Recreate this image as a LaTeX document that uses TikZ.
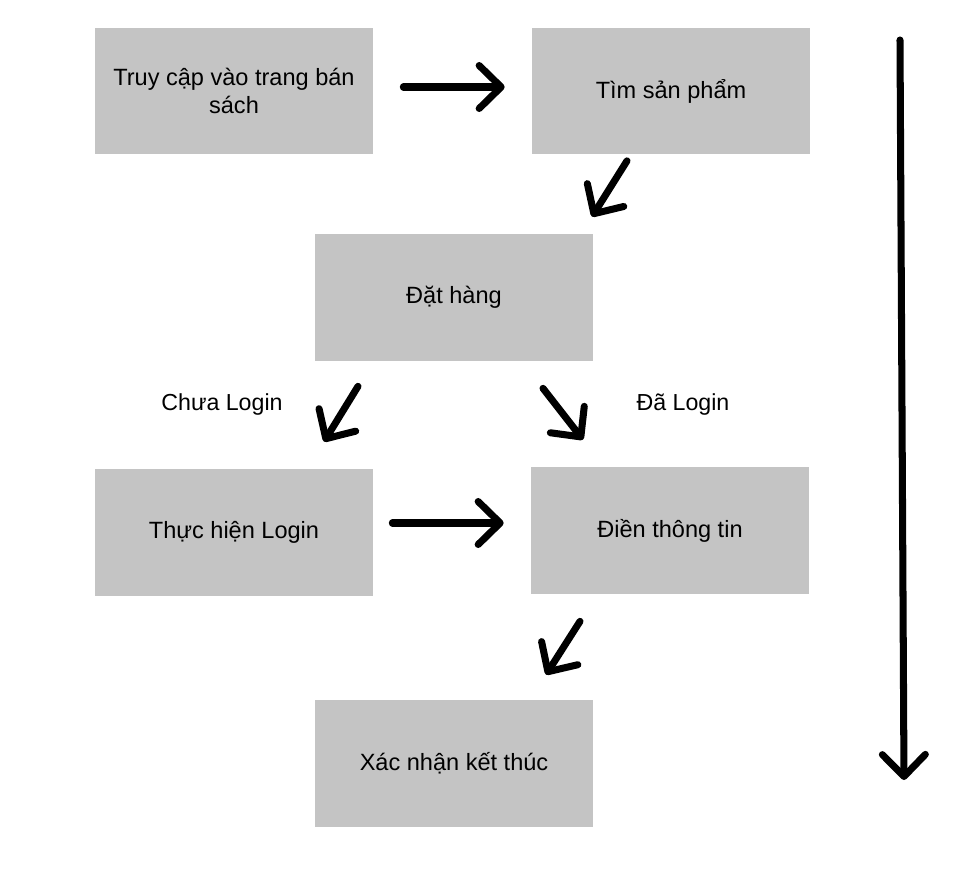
\documentclass[tikz,border=0pt]{standalone}
\usepackage{tikz}
\usetikzlibrary{positioning, calc, arrows.meta}
\usepackage{fontspec}
\setmainfont{Liberation Sans}
\usepackage{xcolor}
\definecolor{xgray}{HTML}{C4C4C4}

\begin{document}
\begin{tikzpicture}[x=0.02cm, y=-0.02cm,
		box/.style={fill=xgray, minimum width=5.56cm, minimum height=2.54cm, align=center, font=\fontsize{13.4}{16}\selectfont, inner sep=0pt},
		lbl/.style={font=\fontsize{13.2}{16}\selectfont},
		arr/.style={line width=4pt, line cap=round, -{Straight Barb[length=4.4mm, width=8.6mm, round]}},
	]
		\useasboundingbox (0,0) rectangle (978,883);

		\node[box] (truy) at (234,91) {Truy cập vào trang bán\\sách};
		\node[box] (tim) at (671,91) {Tìm sản phẩm};
		\node[box] (dat) at (454,297.5) {Đặt hàng};
		\node[box] (login) at (234,532.5) {Thực hiện Login};
		\node[box] (dien) at (670,530.5) {Điền thông tin};
		\node[box] (xac) at (454,763.5) {Xác nhận kết thúc};

		\node[lbl] (chua) at (222,404) {Chưa Login};
		\node[lbl] (da) at (683,404) {Đã Login};

		\coordinate (T) at (900,40);
		\coordinate (E) at (904,780);

		\draw[arr] ([shift={(30,-4)}]truy.east) -- ([shift={(-27,-4)}]tim.west);
		\draw[arr] ([shift={(-44,6)}]tim.south) -- ([shift={(138,-17)}]dat.north);
		\draw[arr] ([shift={(-96,25)}]dat.south) -- ([shift={(90,-27)}]login.north);
		\draw[arr] ([shift={(89,27)}]dat.south) -- ([shift={(-87,-27)}]dien.north);
		\draw[arr] ([shift={(19,-9.5)}]login.east) -- ([shift={(-27,-7.5)}]dien.west);
		\draw[arr] ([shift={(-90,27)}]dien.south) -- ([shift={(92,-25)}]xac.north);
		\draw[arr] (T) -- (E);
	\end{tikzpicture}
\end{document}
